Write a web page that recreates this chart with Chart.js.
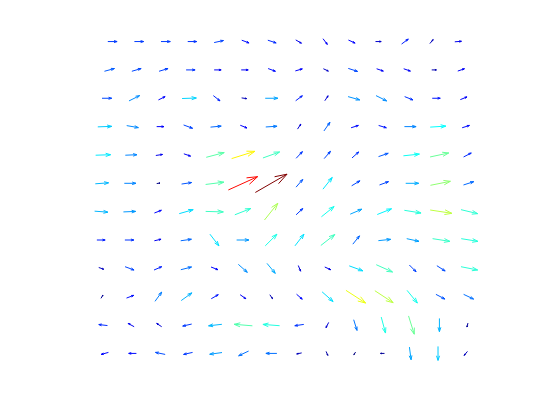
<!DOCTYPE html>
<html>
<head>
<meta charset="utf-8">
<script src="https://cdn.jsdelivr.net/npm/chart.js@4/dist/chart.umd.min.js"></script>
<style>
  html, body { margin: 0; padding: 0; background: #fff; }
  #wrap { width: 560px; height: 420px; }
</style>
</head>
<body>
<div id="wrap"><canvas id="quiver" width="560" height="420"></canvas></div>
<script>
// grid: column / row indices, rows are curved by a sinusoidal projection
const lonIdx = [-6.5, -5.5, -4.5, -3.5, -2.5, -1.5, -0.5, 0.5, 1.5, 2.5, 3.5, 4.5, 5.5, 6.5];
const latIdx = [7, 6, 5, 4, 3, 2, 1, 0, -1, -2, -3, -4];
const STEP_DEG = 2.9;

// vector components, one row per latitude (top to bottom)
const uRows = [
  [9.3, 9.3, 9.3, 9, 9.3, 7.3, 8.3, 5.7, 4.3, 6.7, 5.7, 6.7, 3.3, 6.7],
  [10, 9.3, 9, 9, 7, 7, 7.3, 7, 5, 9.3, 6.7, 6.7, 4.7, 6.7],
  [9.7, 10.7, 6.7, 14.3, 6.7, 5, 12.7, 6.7, 3.3, 11.7, 10.7, 8.3, 8, 6.7],
  [14, 11.7, 7.3, 9, 10.7, 6.7, 11.3, 3.3, 6, 7.3, 7.7, 11.7, 15.7, 7.3],
  [15, 11.7, 6.7, 6.7, 18, 23.3, 16.7, 6.3, 6.3, 6.7, 9.7, 16, 18.7, 7.7],
  [13.3, 11.7, 3.3, 10, 18.3, 29.3, 31.7, 6.7, 9.3, 8.3, 9, 13, 20, 10.3],
  [13.3, 12.3, 7, 14, 17.7, 16, 13.3, 6.7, 12.7, 11.7, 14.3, 16.7, 21.7, 16.7],
  [8.3, 9, 6.7, 10.7, 9, 12.3, 11.7, 9, 14, 6.7, 12.3, 12.3, 17.3, 16.7],
  [5, 9, 7.7, 10.7, 7, 9, 8.3, 2.3, 6, 13.7, 16.3, 6.7, 8.3, 16.7],
  [2, 7.3, 6.7, 10.7, 7, 5.7, 2.7, 5.7, 11, 19.7, 18.3, 10.3, 9, 10],
  [-8.7, -6, -5, -9, -13.3, -18.3, -16.7, -9, -2.7, 3.3, 4.3, 5.7, 0, -1],
  [-7.3, -7.7, -9.7, -9, -12.3, -10, -11, -5, 1.7, -1.7, -4, 1.7, 0, -3.3]
];
const vRows = [
  [0, 0, 0, 0, 2, -2.7, -2.7, -3.3, -5.7, -3, 0, 5, 4, 0.5],
  [2.7, 2.7, 2.7, 0, 0, 0, -2.7, 2, -2.3, -3, -2.3, -2.3, 0, 2.3],
  [0, 5.3, 3.3, 0.5, -5.3, -0.7, 0, 5, 5, -3.3, -5.3, -3.3, 0, 2.7],
  [0.5, -2, 0, -3.3, 1, -2.7, 0.7, 5, 8.7, 2.3, -2.3, 0, 1, 2.3],
  [0.5, 0.5, 1, -2.3, 4.7, 7.3, 6, 6.7, 7.3, 6, 3.3, 1.7, 4, 4],
  [1, 0, 0.5, 1.5, 2.3, 13.3, 18.3, 7.7, 11.7, 5, 3.3, 0, 4, 3.3],
  [-1, 0.5, 2.7, 4, -0.5, 6.3, 16.7, 6.3, 10.3, 5, 5.7, -2.7, -3.3, -4],
  [0, 0, 1.5, 1.5, -11.7, 0, 11.7, 11.7, 11, 8.3, 1.3, -2.7, -2.7, -2.7],
  [-1.7, -3.3, 3.3, 2.7, -2.7, -8, -10, -5.7, -2.7, -5, -7.3, -6.7, -5.3, -3.3],
  [3.3, 2.7, 9.3, 7.7, 4, -4, -4, -5, -9.7, -12.7, -12, -12.7, -4.7, -4.7],
  [1, 3.3, 3.3, -2, -1.5, 1.5, 1.3, -1.3, -5.3, -10.7, -16, -18.3, -13.3, -4],
  [-2, 0, 2, -2, -1.7, -4.7, 0, -1, -4, -2.7, 0, -12.7, -14, -4]
];

const ARROW_SCALE = 1 / 28.35;
const HEAD_A = 0.33, HEAD_B = 0.33;

function jet(t) {
  t = Math.max(0, Math.min(1, t));
  const c = x => Math.round(255 * Math.max(0, Math.min(1, x)));
  return `rgb(${c(1.5 - Math.abs(4 * t - 3))},${c(1.5 - Math.abs(4 * t - 2))},${c(1.5 - Math.abs(4 * t - 1))})`;
}

const points = [];
latIdx.forEach((la, i) => {
  const k = Math.cos(la * STEP_DEG * Math.PI / 180);
  lonIdx.forEach((lo, j) => {
    points.push({ x: lo * k, y: la, u: uRows[i][j], v: vRows[i][j] });
  });
});

const mags = points.map(p => Math.hypot(p.u, p.v));
const mMin = Math.min(...mags), mMax = Math.max(...mags);

const quiverPlugin = {
  id: "quiver",
  afterDatasetsDraw(chart) {
    const ctx = chart.ctx;
    const xs = chart.scales.x, ys = chart.scales.y;
    ctx.save();
    ctx.lineWidth = 1;
    points.forEach((p, n) => {
      const u = p.u * ARROW_SCALE, v = p.v * ARROW_SCALE;
      const x0 = p.x - u / 2, y0 = p.y - v / 2;
      const x1 = x0 + u, y1 = y0 + v;
      const hx1 = x1 - HEAD_A * (u + HEAD_B * v), hy1 = y1 - HEAD_A * (v - HEAD_B * u);
      const hx2 = x1 - HEAD_A * (u - HEAD_B * v), hy2 = y1 - HEAD_A * (v + HEAD_B * u);
      ctx.strokeStyle = jet((mags[n] - mMin) / (mMax - mMin));
      ctx.beginPath();
      ctx.moveTo(xs.getPixelForValue(x0), ys.getPixelForValue(y0));
      ctx.lineTo(xs.getPixelForValue(x1), ys.getPixelForValue(y1));
      ctx.moveTo(xs.getPixelForValue(hx1), ys.getPixelForValue(hy1));
      ctx.lineTo(xs.getPixelForValue(x1), ys.getPixelForValue(y1));
      ctx.lineTo(xs.getPixelForValue(hx2), ys.getPixelForValue(hy2));
      ctx.stroke();
    });
    ctx.restore();
  }
};

new Chart(document.getElementById("quiver"), {
  type: "scatter",
  data: {
    datasets: [{
      data: points.map(p => ({ x: p.x, y: p.y })),
      pointRadius: 0
    }]
  },
  options: {
    responsive: false,
    animation: false,
    layout: { padding: 0 },
    plugins: { legend: { display: false }, tooltip: { enabled: false } },
    scales: {
      x: { type: "linear", min: -10.063, max: 9.69, display: false },
      y: { type: "linear", min: -6.349, max: 8.466, display: false }
    }
  },
  plugins: [quiverPlugin]
});
</script>
</body>
</html>
